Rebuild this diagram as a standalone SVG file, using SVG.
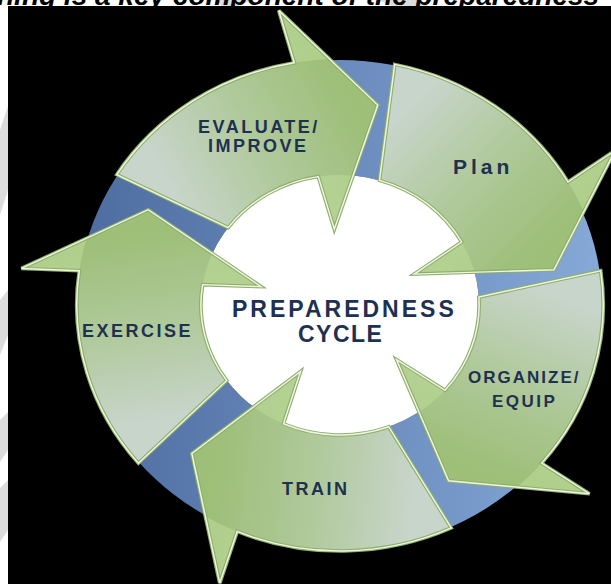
<svg xmlns="http://www.w3.org/2000/svg" width="611" height="584" viewBox="0 0 611 584">
<defs>
<style>
.lbl{font-family:"Liberation Sans",Arial,sans-serif;font-weight:bold;fill:#1e3150;font-size:18px;letter-spacing:2.5px}
.ctr{font-size:23px;letter-spacing:3px}
.edge{fill:none;stroke:#8eae6b;stroke-width:3.5;stroke-linejoin:miter}
.hl{fill:none;stroke:#eef5e2;stroke-width:1.4;stroke-linejoin:miter}
.hi{fill:#b8d593;opacity:0.7}
.wm{fill:#dcdcdc}
</style>
<linearGradient id="ag" gradientUnits="userSpaceOnUse" x1="10" y1="-200" x2="175" y2="-110">
<stop offset="0" stop-color="#c8d5cb"/>
<stop offset="0.5" stop-color="#b0c99b"/>
<stop offset="1" stop-color="#9dbf78"/>
</linearGradient>
<linearGradient id="bg" x1="0" y1="0" x2="1" y2="0">
<stop offset="0" stop-color="#4d6ca0"/>
<stop offset="1" stop-color="#86a9d8"/>
</linearGradient>
<path id="arrow" d="M-8.59,-245.85 A246,246 0 0 1 176.96,-170.90 L212.13,-212.13 L185.45,-82.57 L59.89,-46.79 L95.08,-88.66 A130,130 0 0 0 5.67,-129.88 Z"/>
<clipPath id="outside"><path clip-rule="evenodd" d="M-400,0a400,400 0 1,0 800,0a400,400 0 1,0 -800,0Z M-246,0a246,246 0 1,0 492,0a246,246 0 1,0 -492,0Z M-130,0a130,130 0 1,0 260,0a130,130 0 1,0 -260,0Z"/></clipPath>
</defs>
<rect width="611" height="584" fill="#ffffff"/>
<g id="watermark">
<polygon class="wm" points="0,130 8,106 8,190 0,215"/>
<polygon class="wm" points="0,300 8,290 8,335 0,355"/>
<polygon class="wm" points="0,420 8,412 8,450 0,462"/>
<polygon class="wm" points="0,488 8,480 8,530 0,542"/>
<polygon class="wm" points="215,0 252,0 238,6 222,6"/>
<polygon class="wm" points="378,0 418,0 428,6 392,6"/>
</g>
<text x="-3" y="5" font-family="Liberation Sans, Arial, sans-serif" font-weight="bold" font-style="italic" font-size="28" fill="#000000">ning is a key component of the preparedness</text>
<rect x="8" y="6" width="603" height="578" fill="#000000"/>
<g id="ring" transform="translate(340 305) scale(1.07 1)">
<path fill="url(#bg)" fill-rule="evenodd" d="M-245,0a245,245 0 1,0 490,0a245,245 0 1,0 -490,0Z M-130,0a130,130 0 1,0 260,0a130,130 0 1,0 -260,0Z"/>
<circle r="130" fill="#ffffff"/>
</g>
<g id="connectors"></g>
<g id="evaluate">
<g transform="translate(340 305) scale(1.07 1) rotate(-56)">
<use href="#arrow" fill="url(#ag)"/>
<use href="#arrow" class="hi" clip-path="url(#outside)"/>
<use href="#arrow" class="edge"/>
<use href="#arrow" class="hl"/>
</g>
<text class="lbl" x="198" y="133">EVALUATE/</text>
<text class="lbl" x="208" y="152">IMPROVE</text>
</g>
<g id="plan">
<g transform="translate(340 305) scale(1.07 1) rotate(14)">
<use href="#arrow" fill="url(#ag)"/>
<use href="#arrow" class="hi" clip-path="url(#outside)"/>
<use href="#arrow" class="edge"/>
<use href="#arrow" class="hl"/>
</g>
<text class="lbl" x="453" y="174" style="font-size:21px;letter-spacing:4px">Plan</text>
</g>
<g id="organize">
<g transform="translate(340 305) scale(1.07 1) rotate(84)">
<use href="#arrow" fill="url(#ag)"/>
<use href="#arrow" class="hi" clip-path="url(#outside)"/>
<use href="#arrow" class="edge"/>
<use href="#arrow" class="hl"/>
</g>
<text class="lbl" x="468" y="383" style="font-size:17px;letter-spacing:2px">ORGANIZE/</text>
<text class="lbl" x="492" y="407" style="font-size:17px;letter-spacing:2.5px">EQUIP</text>
</g>
<g id="train">
<g transform="translate(340 305) scale(1.07 1) rotate(157)">
<use href="#arrow" fill="url(#ag)"/>
<use href="#arrow" class="hi" clip-path="url(#outside)"/>
<use href="#arrow" class="edge"/>
<use href="#arrow" class="hl"/>
</g>
<text class="lbl" x="282" y="495">TRAIN</text>
</g>
<g id="exercise">
<g transform="translate(340 305) scale(1.07 1) rotate(232)">
<use href="#arrow" fill="url(#ag)"/>
<use href="#arrow" class="hi" clip-path="url(#outside)"/>
<use href="#arrow" class="edge"/>
<use href="#arrow" class="hl"/>
</g>
<text class="lbl" x="82" y="337">EXERCISE</text>
</g>
<g id="center">
<text class="lbl ctr" x="232" y="317">PREPAREDNESS</text>
<text class="lbl ctr" x="298" y="342" style="letter-spacing:1.5px">CYCLE</text>
</g>
</svg>
